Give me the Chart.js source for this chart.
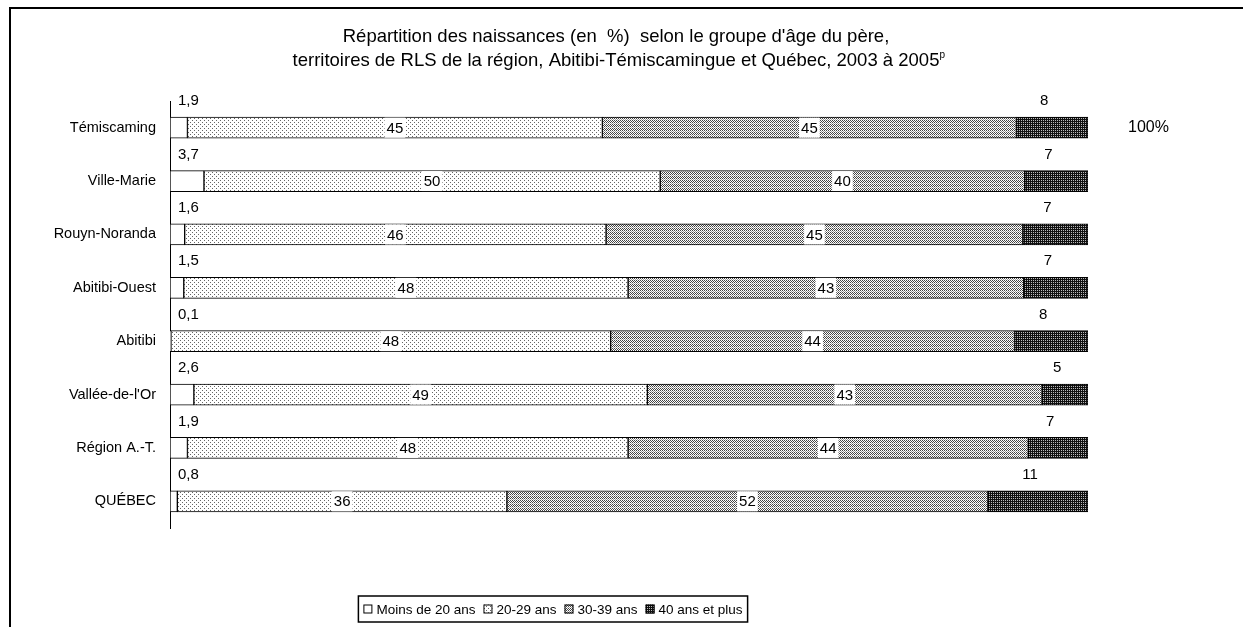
<!DOCTYPE html>
<html>
<head>
<meta charset="utf-8">
<script src="https://cdn.jsdelivr.net/npm/chart.js@4"></script>
<style>
  html, body { margin: 0; padding: 0; background: #fff; }
  #wrap { width: 1243px; height: 627px; position: relative; }
</style>
</head>
<body>
<div id="wrap"><canvas id="chart" width="1243" height="627"></canvas></div>
<script>
// données
const territoires = ['Témiscaming', 'Ville-Marie', 'Rouyn-Noranda', 'Abitibi-Ouest', 'Abitibi', "Vallée-de-l'Or", 'Région A.-T.', 'QUÉBEC'];
const moins20 = [1.9, 3.7, 1.6, 1.5, 0.1, 2.6, 1.9, 0.8];
const de20a29 = [45.2, 49.7, 45.9, 48.4, 47.9, 49.4, 48.0, 35.9];
const de30a39 = [45.1, 39.7, 45.4, 43.1, 44.0, 43.0, 43.6, 52.4];
const plus40 = [7.8, 6.9, 7.1, 7.0, 8.0, 5.0, 6.5, 10.9];
const groupes = ['Moins de 20 ans', '20-29 ans', '30-39 ans', '40 ans et plus'];
const titre = ['Répartition des naissances (en  %)  selon le groupe d\'âge du père,',
  'territoires de RLS de la région, Abitibi-Témiscamingue et Québec, 2003 à 2005'];

const FONT = '"Liberation Sans", Arial, sans-serif';

// motifs noir et blanc façon Excel
const makePattern = (w, h, draw) => {
  const c = document.createElement('canvas');
  c.width = w;
  c.height = h;
  const g = c.getContext('2d');
  draw(g);
  return g.createPattern(c, 'repeat');
};

const patLight = makePattern(4, 4, (g) => {
  g.fillStyle = '#fff';
  g.fillRect(0, 0, 4, 4);
  g.fillStyle = '#666';
  g.fillRect(0, 0, 1, 1);
  g.fillRect(2, 2, 1, 1);
});
const patMid = makePattern(4, 4, (g) => {
  g.fillStyle = '#fff';
  g.fillRect(0, 0, 4, 4);
  g.fillStyle = '#444';
  g.fillRect(0, 0, 1, 1);
  g.fillRect(2, 0, 1, 1);
  g.fillRect(1, 1, 1, 1);
  g.fillRect(3, 1, 1, 1);
  g.fillRect(0, 2, 1, 1);
  g.fillRect(2, 2, 1, 1);
  g.fillStyle = '#999';
  g.fillRect(1, 3, 1, 1);
  g.fillRect(3, 3, 1, 1);
});
const patDark = makePattern(2, 2, (g) => {
  g.fillStyle = '#111';
  g.fillRect(0, 0, 2, 2);
  g.fillStyle = '#bbb';
  g.fillRect(1, 0, 1, 1);
});
const fills = ['#ffffff', patLight, patMid, patDark];

// cadre, titre, étiquettes et légende
const decor = {
  id: 'decor',
  beforeDraw(chart) {
    const ctx = chart.ctx;
    ctx.save();
    ctx.fillStyle = '#fff';
    ctx.fillRect(0, 0, chart.width, chart.height);
    ctx.strokeStyle = '#000';
    ctx.lineWidth = 2;
    ctx.beginPath();
    ctx.moveTo(10, chart.height);
    ctx.lineTo(10, 8);
    ctx.lineTo(chart.width, 8);
    ctx.stroke();

    // titre
    ctx.fillStyle = '#000';
    ctx.textBaseline = 'middle';
    ctx.font = '18.5px ' + FONT;
    ctx.textAlign = 'center';
    ctx.fillText(titre[0], 616, 37);
    const w2 = ctx.measureText(titre[1]).width;
    ctx.textAlign = 'left';
    ctx.fillText(titre[1], 619 - w2 / 2 - 3, 61);
    ctx.font = '10px ' + FONT;
    ctx.fillText('p', 619 + w2 / 2 - 3, 55);
    ctx.restore();
  },
  afterDatasetsDraw(chart) {
    const ctx = chart.ctx;
    ctx.save();
    ctx.font = '15px ' + FONT;
    ctx.textBaseline = 'middle';
    ctx.fillStyle = '#000';
    chart.data.datasets.forEach((ds, di) => {
      const meta = chart.getDatasetMeta(di);
      meta.data.forEach((bar, i) => {
        const v = ds.data[i];
        const top = bar.y - bar.height / 2;
        if (di === 0) {
          ctx.textAlign = 'left';
          ctx.fillText(v.toFixed(1).replace('.', ','), chart.chartArea.left + 8, top - 16);
        } else if (di === 3) {
          ctx.textAlign = 'center';
          ctx.fillText(String(Math.round(v)), (bar.x + bar.base) / 2 - 8, top - 16);
        } else {
          const txt = String(Math.round(v));
          const cx = (bar.x + bar.base) / 2;
          const tw = ctx.measureText(txt).width;
          ctx.fillStyle = '#fff';
          ctx.fillRect(cx - tw / 2 - 2, bar.y - 10, tw + 4, 20);
          ctx.fillStyle = '#000';
          ctx.textAlign = 'center';
          ctx.fillText(txt, cx, bar.y + 1);
        }
      });
    });
    // étiquette 100 % de l'axe
    const first = chart.getDatasetMeta(0).data[0];
    ctx.textAlign = 'left';
    ctx.font = '16px ' + FONT;
    ctx.fillText('100%', chart.chartArea.right + 40, first.y);

    // légende encadrée
    ctx.font = '13.5px ' + FONT;
    const sq = 9;
    let widths = groupes.map((g) => sq + 4 + ctx.measureText(g).width);
    const gap = 8;
    const total = widths.reduce((a, b) => a + b, 0) + gap * (groupes.length - 1) + 10;
    const cxL = 553;
    const ly = 609;
    let x = cxL - total / 2;
    ctx.lineWidth = 1.5;
    ctx.strokeStyle = '#000';
    ctx.strokeRect(x, ly - 13, total, 26);
    x += 5;
    groupes.forEach((g, k) => {
      ctx.fillStyle = fills[k];
      ctx.fillRect(x, ly - sq / 2, sq, sq);
      ctx.lineWidth = 1;
      ctx.strokeRect(x + 0.5, ly - sq / 2 + 0.5, sq - 1, sq - 1);
      ctx.fillStyle = '#000';
      ctx.fillText(g, x + sq + 4, ly + 1);
      x += widths[k] + gap;
    });
    ctx.restore();
  }
};

const mkSet = (label, data, k) => ({
  label,
  data,
  backgroundColor: fills[k],
  borderColor: '#000',
  borderWidth: 1,
  borderSkipped: false,
  barThickness: 21
});

new Chart(document.getElementById('chart'), {
  type: 'bar',
  data: {
    labels: territoires,
    datasets: [
      mkSet(groupes[0], moins20, 0),
      mkSet(groupes[1], de20a29, 1),
      mkSet(groupes[2], de30a39, 2),
      mkSet(groupes[3], plus40, 3)
    ]
  },
  options: {
    indexAxis: 'y',
    responsive: false,
    animation: false,
    devicePixelRatio: 1,
    layout: { padding: { top: 101, right: 155, bottom: 99, left: 0 } },
    plugins: {
      legend: { display: false },
      title: { display: false },
      tooltip: { enabled: false }
    },
    scales: {
      x: { stacked: true, min: 0, max: 100, display: false },
      y: {
        stacked: true,
        afterFit: (scale) => { scale.width = 170; },
        grid: { display: false, drawTicks: false },
        border: { display: true, color: '#000', width: 1 },
        ticks: { color: '#000', padding: 14, font: { family: FONT, size: 14.5 } }
      }
    }
  },
  plugins: [decor]
});
</script>
</body>
</html>
